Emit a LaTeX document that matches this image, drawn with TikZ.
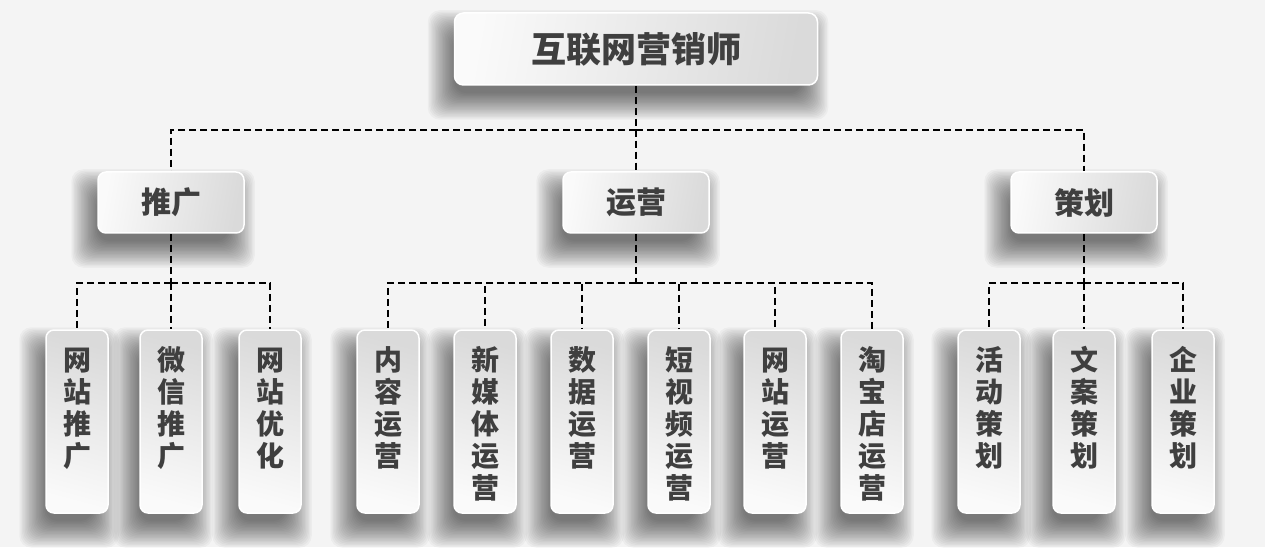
\documentclass[tikz,border=0pt]{standalone}
\usepackage{fontspec}
\setmainfont{Noto Sans CJK SC}
\usetikzlibrary{positioning,backgrounds}
\definecolor{inkgray}{HTML}{3F3F3F}
\definecolor{boxdark}{HTML}{DADADA}
\definecolor{boxlight}{HTML}{FAFAFA}
\definecolor{paper}{HTML}{F4F4F4}

% soft shadow below left of a node: stacked see-through boxes
\newcommand{\dropshadow}[1]{
  \foreach \k in {0,...,19} {
    \pgfmathsetmacro{\s}{18-\k*1.4}
    \fill[black, opacity=0.03, rounded corners=12pt]
      ([shift={(-8-\s,16-\s)}]#1.north west) rectangle ([shift={(-8+\s,16+\s)}]#1.south east);
  }
}

\begin{document}
\begin{tikzpicture}[
  x=1pt, y=-1pt,
  rootbox/.style={rectangle, rounded corners=9pt, draw=white, line width=1.5pt, left color=boxlight, right color=boxdark, shading angle=80, minimum width=363pt, minimum height=72pt, text=inkgray, font=\bfseries\fontsize{35}{40}\selectfont},
  groupbox/.style={rectangle, rounded corners=8pt, draw=white, line width=1.5pt, left color=boxlight, right color=boxdark, shading angle=80, minimum width=146pt, minimum height=61pt, text=inkgray, font=\bfseries\fontsize{30}{36}\selectfont},
  leafbox/.style={rectangle, rounded corners=8pt, draw=white, line width=1.5pt, top color=boxdark, bottom color=boxlight, shading angle=-15, minimum width=62pt, inner sep=0pt, text height=40pt, text depth=143pt, text=inkgray, font=\bfseries\fontsize{28}{32}\selectfont},
  link/.style={draw=black, line width=2.2pt, dash pattern=on 7pt off 4pt}
]

% --- PAPER ---
\begin{scope}[on background layer]
  \fill[paper] (0,0) rectangle (1265,547);
\end{scope}

% --- TOP: ROOT AND THREE GROUPS ---
\node[rootbox] (root) at (636,49) {互联网营销师};
\node[groupbox] (promo) at (171,202.5) {推广};
\node[groupbox] (oper) at (636,202.5) {运营};
\node[groupbox] (plan) at (1084,202.5) {策划};

% --- BOTTOM: LEAVES ---
\foreach \i/\x/\txt in {1/77/{网\\站\\推\\广}, 2/171/{微\\信\\推\\广}, 3/270/{网\\站\\优\\化},
                        4/388/{内\\容\\运\\营}, 5/485/{新\\媒\\体\\运\\营}, 6/582/{数\\据\\运\\营},
                        7/679/{短\\视\\频\\运\\营}, 8/775/{网\\站\\运\\营}, 9/872/{淘\\宝\\店\\运\\营},
                        10/989/{活\\动\\策\\划}, 11/1084/{文\\案\\策\\划}, 12/1183/{企\\业\\策\\划}} {
  \node[leafbox] (leaf\i) at (\x,421.5) {\parbox[t]{30pt}{\centering\txt}};
}

% Shadows, then connectors, all behind the boxes
\begin{scope}[on background layer]
  \foreach \n in {root,promo,oper,plan,leaf1,leaf2,leaf3,leaf4,leaf5,leaf6,leaf7,leaf8,leaf9,leaf10,leaf11,leaf12} {
    \dropshadow{\n}
  }
  \draw[link] (root.south) -- ++(0,44) coordinate (rootbus);
  \foreach \g in {promo,oper,plan} {
    \draw[link] (rootbus) -| (\g.north);
  }
  \foreach \g in {promo,oper,plan} {
    \draw[link] (\g.south) -- ++(0,49) coordinate (\g bus);
  }
  \foreach \i/\g in {1/promo,2/promo,3/promo,4/oper,5/oper,6/oper,7/oper,8/oper,9/oper,10/plan,11/plan,12/plan} {
    \draw[link] (\g bus) -| (leaf\i.north);
  }
\end{scope}

\end{tikzpicture}
\end{document}
